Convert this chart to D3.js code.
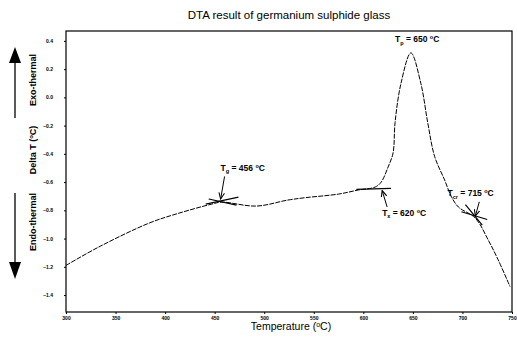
<!DOCTYPE html>
<html>
<head>
<meta charset="utf-8">
<script src="https://cdn.jsdelivr.net/npm/d3@7"></script>
<style>
body { margin: 0; background: #fff; }
svg { font-family: "Liberation Sans", Arial, sans-serif; }
</style>
</head>
<body>
<div id="chart"></div>
<script>
// DTA curve: temperature (°C) and delta T (°C)
var temps = [300, 333, 384, 414, 447, 457, 492, 524, 542, 575, 595, 612, 618, 625, 630, 632, 638, 648, 658, 665, 672, 682, 689, 696, 713, 726, 736, 748];
var deltaT = [-1.19, -1.06, -0.89, -0.82, -0.756, -0.742, -0.77, -0.727, -0.71, -0.685, -0.656, -0.635, -0.60, -0.493, -0.394, -0.18, 0.10, 0.315, 0.10, -0.18, -0.42, -0.585, -0.706, -0.777, -0.855, -1.01, -1.15, -1.34];

var xTicks = [300, 350, 400, 450, 500, 550, 600, 650, 700, 750];
var yTicks = [0.4, 0.2, 0.0, -0.2, -0.4, -0.6, -0.8, -1.0, -1.2, -1.4];

// tangent construction lines, [t1, v1, t2, v2]
var tangents = [
	[441, -0.756, 474, -0.706],
	[444, -0.72, 472, -0.763],
	[593, -0.652, 628, -0.645],
	[699, -0.81, 725, -0.865],
	[703, -0.76, 720, -0.905]
];

// labels and arrows: text, label position, arrow start, arrow end
var notes = [
	{ sym: 'T', sub: 'g', rest: ' = 456 °C', t: 456, v: -0.52, from: [460, -0.56], to: [456, -0.72] },
	{ sym: 'T', sub: 'p', rest: ' = 650 °C', t: 632, v: 0.39, from: null, to: null },
	{ sym: 'T', sub: 'x', rest: ' = 620 °C', t: 619, v: -0.84, from: [624, -0.776], to: [619, -0.66] },
	{ sym: 'T', sub: 'cr', rest: ' = 715 °C', t: 685, v: -0.7, from: [717, -0.74], to: [713, -0.84] }
];

var width = 517, height = 341;
var margin = { top: 31, right: 5, bottom: 29, left: 66 };

var svg = d3.select('#chart').append('svg').attr('width', width).attr('height', height);

var x = d3.scaleLinear().domain([300, 750]).range([margin.left, width - margin.right]);
var y = d3.scaleLinear().domain([-1.52, 0.47]).range([height - margin.bottom, margin.top]);

// title
svg.append('text').attr('x', 289).attr('y', 19).attr('text-anchor', 'middle')
	.style('font-size', '11.5px').text('DTA result of germanium sulphide glass');

// frame
svg.append('rect')
	.attr('x', margin.left).attr('y', margin.top)
	.attr('width', width - margin.right - margin.left)
	.attr('height', height - margin.bottom - margin.top)
	.attr('fill', 'none').attr('stroke', '#000').attr('stroke-width', 1.2);

var xAxis = svg.append('g').attr('transform', 'translate(0,' + (height - margin.bottom) + ')')
	.call(d3.axisBottom(x).tickValues(xTicks).tickSize(2).tickPadding(2).tickFormat(d3.format('d')));
var yAxis = svg.append('g').attr('transform', 'translate(' + margin.left + ',0)')
	.call(d3.axisLeft(y).tickValues(yTicks).tickSize(2).tickPadding(11).tickFormat(d3.format('.1f')));

[xAxis, yAxis].forEach(function(a){
	a.select('.domain').remove();
	a.selectAll('text').style('font-size', '5px').style('font-weight', 'bold').attr('fill', '#000');
	a.selectAll('line').attr('stroke', '#000');
});

// x axis title
var xt = svg.append('text').attr('x', 291).attr('y', 330).attr('text-anchor', 'middle').style('font-size', '10.5px');
xt.append('tspan').text('Temperature (');
xt.append('tspan').attr('dy', -3).style('font-size', '7px').text('o');
xt.append('tspan').attr('dy', 3).text('C)');

// left side labels, rotated
function sideLabel(cy, parts){
	var t = svg.append('text').attr('transform', 'translate(36,' + cy + ') rotate(-90)')
		.attr('text-anchor', 'middle').style('font-size', '9px').style('font-weight', 'bold');
	parts.forEach(function(p){
		var s = t.append('tspan').text(p[0]);
		if (p[1]) s.attr('dy', p[1]);
		if (p[2]) s.style('font-size', p[2]);
	});
}
sideLabel(80, [['Exo-thermal']]);
sideLabel(150, [['Delta T ('], ['o', -3, '6px'], ['C)', 3]]);
sideLabel(222, [['Endo-thermal']]);

// big arrows on the left
svg.append('line').attr('x1', 15).attr('x2', 15).attr('y1', 60).attr('y2', 118).attr('stroke', '#000').attr('stroke-width', 1.3);
svg.append('path').attr('d', 'M15,47 L9,63 L21,63 Z').attr('fill', '#000');
svg.append('line').attr('x1', 15).attr('x2', 15).attr('y1', 193).attr('y2', 262).attr('stroke', '#000').attr('stroke-width', 1.3);
svg.append('path').attr('d', 'M15,279 L9,262 L21,262 Z').attr('fill', '#000');

// curve
var pts = temps.map(function(t, i){ return [t, deltaT[i]]; });
var line = d3.line()
	.x(function(d){ return x(d[0]); })
	.y(function(d){ return y(d[1]); })
	.curve(d3.curveCatmullRom.alpha(0.5));

svg.append('path').datum(pts)
	.attr('d', line)
	.attr('fill', 'none').attr('stroke', '#000').attr('stroke-width', 1)
	.attr('stroke-dasharray', '5,1.2');

// tangents
svg.selectAll('line.tan').data(tangents).enter().append('line').attr('class', 'tan')
	.attr('x1', function(d){ return x(d[0]); })
	.attr('y1', function(d){ return y(d[1]); })
	.attr('x2', function(d){ return x(d[2]); })
	.attr('y2', function(d){ return y(d[3]); })
	.attr('stroke', '#000').attr('stroke-width', 1.2);

// arrow marker
svg.append('defs').append('marker')
	.attr('id', 'head').attr('viewBox', '0 0 10 10').attr('refX', 9).attr('refY', 5)
	.attr('markerWidth', 7).attr('markerHeight', 7).attr('orient', 'auto')
	.append('path').attr('d', 'M0,1 L9,5 L0,9').attr('fill', 'none').attr('stroke', '#000').attr('stroke-width', 1.5);

notes.forEach(function(n){
	var t = svg.append('text').attr('x', x(n.t)).attr('y', y(n.v))
		.style('font-size', '8.5px').style('font-weight', 'bold');
	t.append('tspan').text(n.sym);
	t.append('tspan').attr('dy', 2.5).style('font-size', '5.5px').text(n.sub);
	var r = n.rest.split('°');
	t.append('tspan').attr('dy', -2.5).text(r[0]);
	t.append('tspan').attr('dy', -3).style('font-size', '5.5px').text('o');
	t.append('tspan').attr('dy', 3).text(r[1]);
	if (n.from) {
		svg.append('line')
			.attr('x1', x(n.from[0])).attr('y1', y(n.from[1]))
			.attr('x2', x(n.to[0])).attr('y2', y(n.to[1]))
			.attr('stroke', '#000').attr('stroke-width', 1)
			.attr('marker-end', 'url(#head)');
	}
});
</script>
</body>
</html>
